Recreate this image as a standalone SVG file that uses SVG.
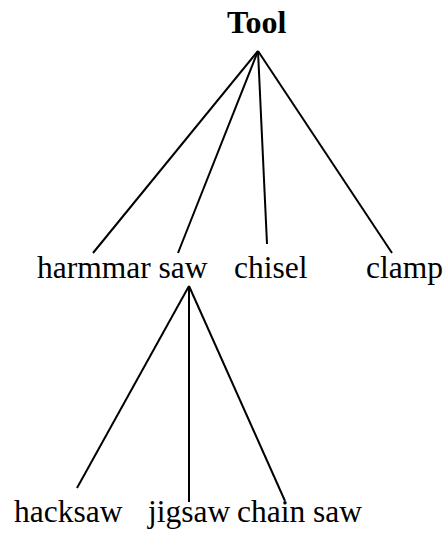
<svg xmlns="http://www.w3.org/2000/svg" width="446" height="537" viewBox="0 0 446 537">
<style>
text{font-family:"Liberation Serif","Times New Roman",serif;font-size:31.5px;fill:#000}
.b{font-weight:bold;font-size:32px}
line{stroke:#000;stroke-width:2}
</style>
<rect width="446" height="537" fill="#fff"/>
<g id="connectors">
<line x1="258" y1="51" x2="93" y2="253"/>
<line x1="258" y1="51" x2="178" y2="253"/>
<line x1="258" y1="51" x2="267" y2="244"/>
<line x1="258" y1="51" x2="392" y2="253"/>
<line x1="189" y1="286" x2="77" y2="488"/>
<line x1="189" y1="286" x2="189" y2="502"/>
<line x1="189" y1="286" x2="285" y2="501"/>
</g>
<g id="tool"><text class="b" x="227" y="33">Tool</text></g>
<g id="harmmar"><text x="37" y="278">harmmar saw</text></g>
<g id="chisel"><text x="234" y="278">chisel</text></g>
<g id="clamp"><text x="366" y="278">clamp</text></g>
<g id="hacksaw"><text x="14" y="522">hacksaw</text></g>
<g id="jigsaw"><text x="148" y="522">jigsaw</text></g>
<g id="chainsaw"><text x="237" y="522">chain saw</text></g>
</svg>
